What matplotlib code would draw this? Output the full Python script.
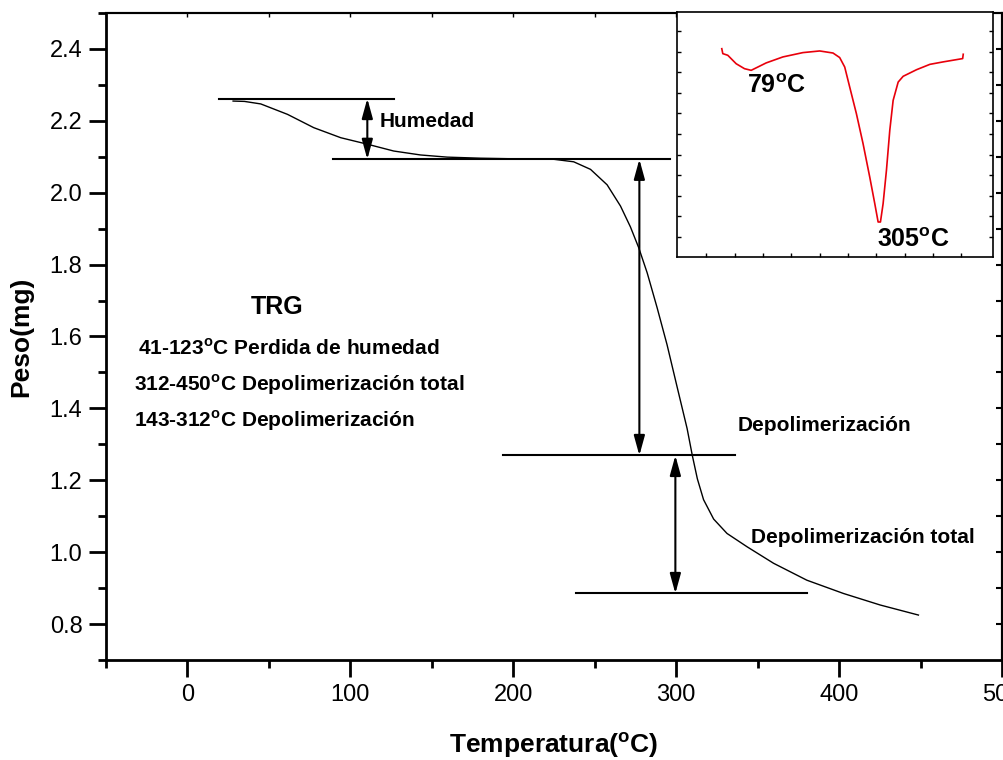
import numpy as np
import matplotlib
matplotlib.use("Agg")
import matplotlib.pyplot as plt

plt.rcParams['font.family'] = ['Liberation Sans', 'DejaVu Sans']
plt.rcParams['mathtext.fontset'] = 'custom'
plt.rcParams['mathtext.rm'] = 'Liberation Sans'
plt.rcParams['mathtext.bf'] = 'Liberation Sans:bold'

# TGA curve (temperature in C, weight in mg)
temp = [28.0, 35, 45, 61.4, 77.5, 94.1, 110.4, 126.6, 143.1, 159.5, 179.9, 205,
        224.9, 237.1, 247.4, 257.6, 265.8, 271.9, 277.0, 282.2, 288.3, 294.4,
        300.5, 306.7, 309.9, 313.0, 316.8, 323.0, 331.2, 343.5, 359.8, 380.2,
        402.7, 425.2, 448.7]
weight = [2.255, 2.254, 2.247, 2.218, 2.181, 2.153, 2.135, 2.116, 2.105, 2.099,
          2.096, 2.094, 2.093, 2.086, 2.065, 2.022, 1.963, 1.905, 1.847, 1.777,
          1.680, 1.577, 1.461, 1.344, 1.269, 1.204, 1.146, 1.092, 1.052, 1.015,
          0.969, 0.922, 0.885, 0.853, 0.825]

# step levels: (weight, t_start, t_end)
levels_w = [2.262, 2.093, 1.269, 0.885]
levels_t0 = [19.3, 89.2, 193.5, 238.2]
levels_t1 = [126.6, 296.2, 336.3, 380.6]

# double arrows: (temperature, top weight, bottom weight)
arrow_t = [110.4, 277.4, 299.5]
arrow_top = [2.262, 2.093, 1.269]
arrow_bot = [2.093, 1.269, 0.885]

# DTG inset curve (arbitrary units)
dtg_t = [27.1, 28.9, 37.7, 52.5, 67.2, 79, 90.8, 105.5, 135, 170.4, 200, 223.5,
         235.3, 244.2, 253, 264.8, 276.6, 288.4, 297.3, 303.2, 307.3, 312, 317.9,
         323.8, 329.7, 338.6, 347.4, 371, 394.6, 418.2, 441.8, 452.5, 453.5]
dtg_y = [9.14, 8.90, 8.82, 8.41, 8.17, 8.09, 8.25, 8.45, 8.74, 8.95, 9.03, 8.93,
         8.71, 8.25, 7.28, 5.99, 4.53, 2.91, 1.62, 0.73, 0.73, 1.62, 3.24, 5.18,
         6.63, 7.52, 7.80, 8.12, 8.38, 8.50, 8.61, 8.66, 8.87]

legend_lines = ['41-123$^{\\mathbf{o}}$C Perdida de humedad',
                '312-450$^{\\mathbf{o}}$C Depolimerización total',
                '143-312$^{\\mathbf{o}}$C Depolimerización']

fig = plt.figure(figsize=(10.04, 7.6), dpi=100)
ax = fig.add_axes([0.1056, 0.1316, 0.8924, 0.8513])

ax.plot(temp, weight, color='black', lw=1.0)

for w, t0, t1 in zip(levels_w, levels_t0, levels_t1):
    ax.plot([t0, t1], [w, w], color='black', lw=1.5)

for t, w0, w1 in zip(arrow_t, arrow_top, arrow_bot):
    ax.annotate('', xy=(t, w1), xytext=(t, w0),
                arrowprops=dict(arrowstyle='<|-|>,head_length=0.8,head_width=0.22',
                                color='black', lw=1.5, shrinkA=0, shrinkB=0,
                                mutation_scale=15))

ax.text(118, 2.198, 'Humedad', fontsize=15, fontweight='bold', va='center')
ax.text(338, 1.352, 'Depolimerización', fontsize=15, fontweight='bold', va='center')
ax.text(346, 1.041, 'Depolimerización total', fontsize=15, fontweight='bold', va='center')
ax.text(54.8, 1.683, 'TRG', fontsize=18, fontweight='bold', ha='center', va='center')
for x, y, s in zip([-30.4, -32.9, -32.9], [1.566, 1.466, 1.366], legend_lines):
    ax.text(x, y, s, fontsize=15, fontweight='bold', va='center')

ax.set_xlim(-50, 500)
ax.set_ylim(0.7, 2.5)
ax.set_xticks(np.arange(0, 501, 100))
ax.set_xticks(np.arange(-50, 501, 50), minor=True)
ax.set_yticks(np.arange(0.8, 2.41, 0.2))
ax.set_yticks(np.arange(0.7, 2.51, 0.1), minor=True)
ax.yaxis.set_major_formatter(matplotlib.ticker.FormatStrFormatter('%.1f'))
ax.tick_params(which='major', direction='out', length=12, width=2, labelsize=17)
ax.tick_params(which='minor', direction='out', length=6, width=2)
ax.tick_params(axis='x', pad=5)
ax.tick_params(axis='y', pad=5)
for side in ['left', 'bottom']:
    ax.spines[side].set_linewidth(2)
for side in ['top', 'right']:
    ax.spines[side].set_linewidth(1.5)

top = ax.secondary_xaxis('top')
top.set_xticks(np.arange(0, 501, 50))
top.tick_params(direction='in', length=3, width=1, labeltop=False)
top.spines['top'].set_linewidth(1.5)
right = ax.secondary_yaxis('right')
right.set_yticks(np.arange(0.8, 2.41, 0.1))
right.tick_params(direction='in', length=4, width=1.5, labelright=False)
right.spines['right'].set_linewidth(1.5)

ax.set_xlabel('Temperatura($^{\\mathbf{o}}$C)', fontsize=19, fontweight='bold', labelpad=18)
ax.set_ylabel('Peso(mg)', fontsize=19, fontweight='bold', labelpad=12)

# inset DTG
ins = fig.add_axes([0.6743, 0.6618, 0.3147, 0.3224])
ins.plot(dtg_t, dtg_y, color='#e8000b', lw=1.2)
ins.set_xlim(-52, 506)
ins.set_ylim(-0.97, 10.92)
ins.set_xticks(np.arange(0, 451, 50))
ins.set_yticks(np.arange(0, 11, 1))
ins.tick_params(direction='in', length=3, width=1, top=False, right=True,
                labelbottom=False, labelleft=False)
for s in ins.spines.values():
    s.set_linewidth(1.2)
ins.text(72.5, 7.31, '79$^{\\mathbf{o}}$C', fontsize=18, fontweight='bold', va='center')
ins.text(300.8, -0.16, '305$^{\\mathbf{o}}$C', fontsize=18, fontweight='bold', va='center')

fig.savefig('out.png', dpi=100)
